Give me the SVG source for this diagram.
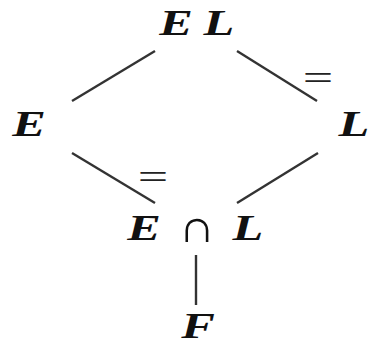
<svg xmlns="http://www.w3.org/2000/svg" width="370" height="344" viewBox="0 0 370 344">
<style>
.t{font-family:"Liberation Serif","Times New Roman",serif;font-weight:bold;font-style:italic;font-size:36px;fill:#111;text-anchor:middle}
.op{font-family:"Liberation Serif","Times New Roman",serif;font-size:46px;fill:#111;text-anchor:middle}
.c line{stroke:#333;stroke-width:2.4}
.eq{font-family:"Liberation Serif",serif;font-size:36px;fill:#222;text-anchor:middle}
</style>
<rect width="370" height="344" fill="#fff"/>
<g class="c" id="connectors">
<line x1="155" y1="51" x2="72" y2="101"/>
<line x1="237" y1="51" x2="317" y2="101"/>
<line x1="72" y1="153" x2="155" y2="203"/>
<line x1="318" y1="153" x2="237" y2="203"/>
<line x1="196" y1="255" x2="196" y2="305"/>
<text class="eq" transform="translate(318,90) scale(1.5,1)">=</text>
<text class="eq" transform="translate(153,189) scale(1.5,1)">=</text>
</g>
<g id="EL">
<text class="t" transform="translate(176,35) scale(1.4,1)">E</text>
<text class="t" transform="translate(219,35) scale(1.4,1)">L</text>
</g>
<g id="E"><text class="t" transform="translate(29,136) scale(1.4,1)">E</text></g>
<g id="L"><text class="t" transform="translate(354,136) scale(1.4,1)">L</text></g>
<g id="EcapL">
<text class="t" transform="translate(144,240) scale(1.4,1)">E</text>
<text class="op" transform="translate(197,242) scale(1.1,1)">∩</text>
<text class="t" transform="translate(248,240) scale(1.4,1)">L</text>
</g>
<g id="F"><text class="t" transform="translate(198,338) scale(1.4,1)">F</text></g>
</svg>
